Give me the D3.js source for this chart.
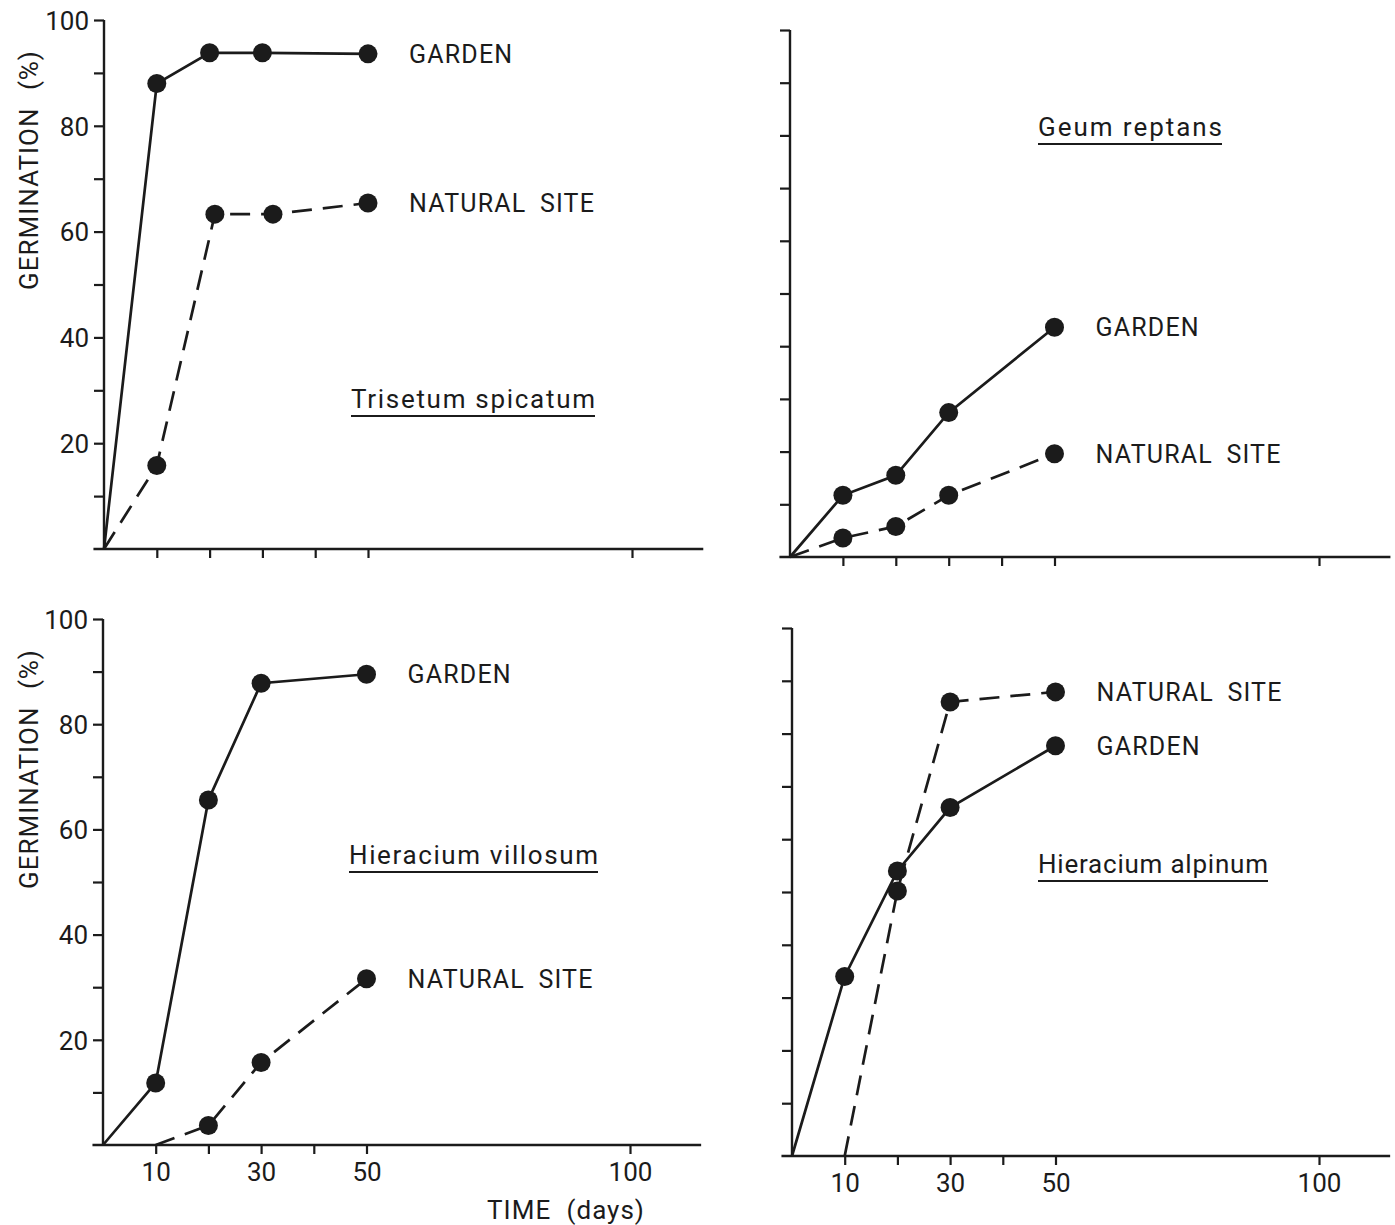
<!DOCTYPE html>
<html><head><meta charset="utf-8">
<script src="https://cdn.jsdelivr.net/npm/d3@7"></script>
<style>
html,body{margin:0;padding:0;background:#fff;}
text{font-family:Roboto,"Liberation Sans",sans-serif;fill:#1b1b1b;}
</style></head>
<body>
<svg id="c" width="1395" height="1225"></svg>
<script>
// ---- data (days, germination %) ----
const trisetumGardenDays  = [0, 10, 20, 30, 50];
const trisetumGarden      = [0, 88.0, 93.8, 93.8, 93.6];
const trisetumNaturalDays = [0, 10, 21, 32, 50];
const trisetumNatural     = [0, 15.8, 63.3, 63.3, 65.4];

const geumGardenDays  = [0, 10, 20, 30, 50];
const geumGarden      = [0, 11.7, 15.5, 27.4, 43.6];
const geumNaturalDays = [0, 10, 20, 30, 50];
const geumNatural     = [0, 3.6, 5.8, 11.7, 19.6];

const villosumGardenDays  = [0, 10, 20, 30, 50];
const villosumGarden      = [0, 11.8, 65.6, 87.8, 89.5];
const villosumNaturalDays = [10, 20, 30, 50];
const villosumNatural     = [0, 3.7, 15.7, 31.6];

const alpinumGardenDays  = [0, 10, 20, 30, 50];
const alpinumGarden      = [0, 34.0, 54.0, 66.0, 77.7];
const alpinumNaturalDays = [10, 20, 30, 50];
const alpinumNatural     = [0, 50.2, 86.0, 87.9];

const xTickValues = [10, 20, 30, 40, 50, 100];
const xTickLabels = [10, 30, 50, 100];
const yTickValues = [10, 20, 30, 40, 50, 60, 70, 80, 90, 100];
const yTickLabels = [20, 40, 60, 80, 100];
const seriesNames = ["GARDEN", "NATURAL SITE"];
const speciesNames = ["Trisetum spicatum", "Geum reptans", "Hieracium villosum", "Hieracium alpinum"];
const yTitle = "GERMINATION (%)";
const xTitle = "TIME (days)";

// ---- layout ----
const panels = [
  {name: speciesNames[0], g: [trisetumGardenDays, trisetumGarden], n: [trisetumNaturalDays, trisetumNatural],
   x0: 104, x100: 632, y0: 549, y100: 20, yLab: true, xLab: false, tx: 351, ty: 399, tw: 244},
  {name: speciesNames[1], g: [geumGardenDays, geumGarden], n: [geumNaturalDays, geumNatural],
   x0: 790, x100: 1319, y0: 557, y100: 30, yLab: false, xLab: false, tx: 1038, ty: 127, tw: 184},
  {name: speciesNames[2], g: [villosumGardenDays, villosumGarden], n: [villosumNaturalDays, villosumNatural],
   x0: 103, x100: 630, y0: 1145, y100: 619, yLab: true, xLab: true, tx: 349, ty: 855, tw: 249},
  {name: speciesNames[3], g: [alpinumGardenDays, alpinumGarden], n: [alpinumNaturalDays, alpinumNatural],
   x0: 792, x100: 1319, y0: 1156, y100: 628, yLab: false, xLab: true, tx: 1038, ty: 864, tw: 230}
];

const ink = "#1b1b1b";
const svg = d3.select("#c");

panels.forEach((p, i) => {
  const x = d3.scaleLinear().domain([0, 100]).range([p.x0, p.x100]);
  const y = d3.scaleLinear().domain([0, 100]).range([p.y0, p.y100]);
  const g = svg.append("g");

  // y axis
  const ya = d3.axisLeft(y).tickValues(yTickValues).tickSize(10).tickSizeOuter(0)
    .tickFormat(d => (p.yLab && yTickLabels.includes(d)) ? d : "");
  const yg = g.append("g").attr("transform", `translate(${x(0)},0)`).call(ya);
  yg.select(".domain").remove();
  yg.selectAll(".tick line").attr("stroke", ink).attr("stroke-width", 2.2);
  yg.selectAll(".tick text").attr("font-size", 26).attr("x", -15).attr("dy", "0.36em")
    .attr("fill", ink).style("font-family", "Roboto");
  g.append("line").attr("x1", x(0)).attr("x2", x(0)).attr("y1", y(0)).attr("y2", y(100))
    .attr("stroke", ink).attr("stroke-width", 2.4);

  // x axis
  const xa = d3.axisBottom(x).tickValues(xTickValues).tickSize(9).tickSizeOuter(0)
    .tickFormat(d => (p.xLab && xTickLabels.includes(d)) ? d : "");
  const xg = g.append("g").attr("transform", `translate(0,${y(0)})`).call(xa);
  xg.select(".domain").remove();
  xg.selectAll(".tick line").attr("stroke", ink).attr("stroke-width", 2.2);
  xg.selectAll(".tick text").attr("font-size", 26).attr("y", 18).attr("dy", "0.71em")
    .attr("fill", ink).style("font-family", "Roboto");
  g.append("line").attr("x1", x(-2)).attr("x2", x(113.5)).attr("y1", y(0)).attr("y2", y(0))
    .attr("stroke", ink).attr("stroke-width", 2.4);

  // series
  const line = d3.line().x(d => x(d[0])).y(d => y(d[1]));
  [p.g, p.n].forEach((s, k) => {
    const pts = s[0].map((d, j) => [d, s[1][j]]);
    g.append("path").attr("d", line(pts)).attr("fill", "none").attr("stroke", ink)
      .attr("stroke-width", 2.7).attr("stroke-dasharray", k === 1 ? "20,11" : null);
    g.selectAll(null).data(pts.filter(d => d[1] > 0)).enter().append("circle")
      .attr("cx", d => x(d[0])).attr("cy", d => y(d[1])).attr("r", 9.5).attr("fill", ink);
    const last = pts[pts.length - 1];
    g.append("text").attr("x", x(last[0]) + 41).attr("y", y(last[1])).attr("dy", "0.36em")
      .attr("font-size", 25).attr("letter-spacing", 1.2).attr("word-spacing", 6)
      .text(seriesNames[k]);
  });

  // species title
  g.append("text").attr("x", p.tx).attr("y", p.ty).attr("dy", "0.36em")
    .attr("font-size", 26).attr("textLength", p.tw).attr("lengthAdjust", "spacing")
    .text(p.name);
  g.append("line").attr("x1", p.tx).attr("x2", p.tx + p.tw).attr("y1", p.ty + 17).attr("y2", p.ty + 17)
    .attr("stroke", ink).attr("stroke-width", 2.2);

  // y title
  if (p.yLab) {
    g.append("text").attr("transform", `translate(29,${p.y100 + 150}) rotate(-90)`)
      .attr("text-anchor", "middle").attr("dy", "0.36em").attr("font-size", 26)
      .attr("letter-spacing", 1).attr("word-spacing", 10).text(yTitle);
  }
  if (p.xLab && i === 2) {
    g.append("text").attr("x", 566).attr("y", 1210).attr("dy", "0.36em").attr("text-anchor", "middle")
      .attr("font-size", 26).attr("letter-spacing", 1).attr("word-spacing", 8).text(xTitle);
  }
});
</script>
</body></html>
